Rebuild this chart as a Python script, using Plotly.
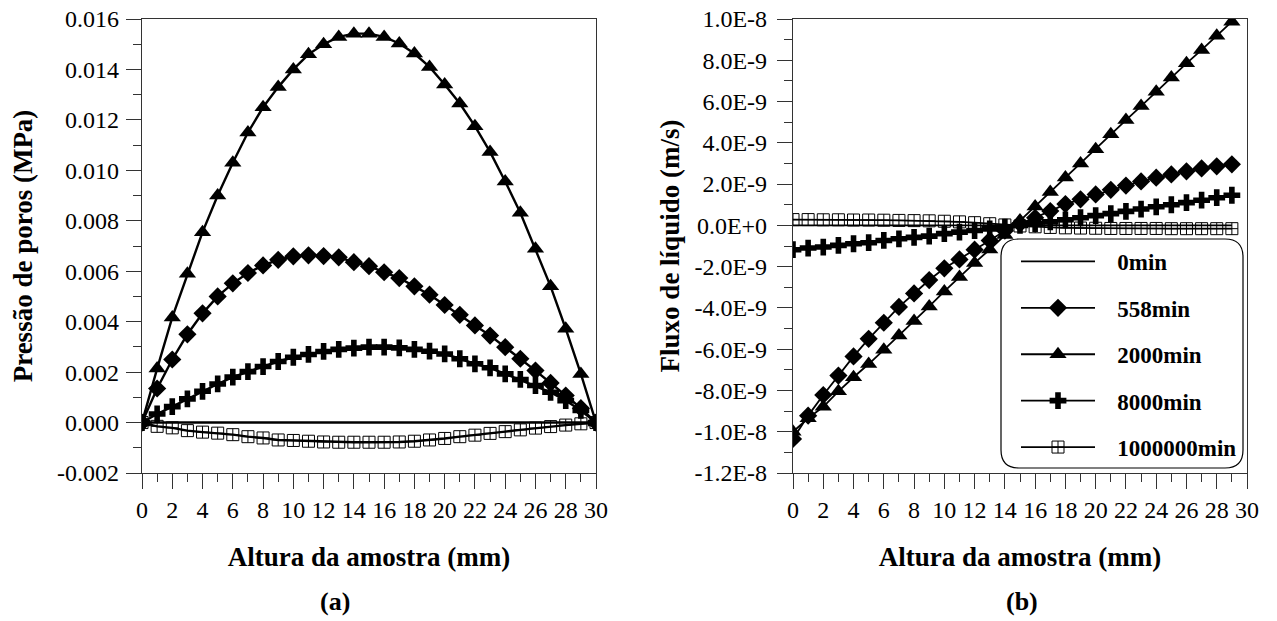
import plotly.graph_objects as go

# ---------------- data ----------------
x_a = list(range(0, 31))
p_0min = [0.0] * 31
p_558 = [0, 1.35, 2.5, 3.5, 4.33, 5.0, 5.52, 5.93, 6.23, 6.45, 6.59, 6.63, 6.6, 6.55, 6.36, 6.2,
         5.96, 5.73, 5.4, 5.07, 4.66, 4.27, 3.85, 3.45, 2.99, 2.53, 2.06, 1.57, 1.07, 0.57, 0]
p_2000 = [0, 2.14, 4.17, 5.9, 7.55, 9.0, 10.3, 11.5, 12.5, 13.3, 14.0, 14.6, 15.0, 15.29, 15.42, 15.42,
          15.29, 15.03, 14.63, 14.1, 13.4, 12.65, 11.75, 10.73, 9.56, 8.32, 6.89, 5.4, 3.72, 1.93, 0]
p_8000 = [0, 0.34, 0.63, 0.94, 1.24, 1.53, 1.8, 2.02, 2.22, 2.42, 2.59, 2.7, 2.82, 2.9, 2.95, 2.99,
          2.99, 2.96, 2.9, 2.83, 2.72, 2.53, 2.33, 2.17, 1.93, 1.71, 1.47, 1.2, 0.87, 0.48, 0]
p_1e6 = [0, -0.15, -0.21, -0.32, -0.38, -0.42, -0.48, -0.56, -0.61, -0.69, -0.71, -0.74, -0.77, -0.78,
         -0.78, -0.78, -0.78, -0.77, -0.74, -0.69, -0.63, -0.56, -0.5, -0.43, -0.36, -0.29, -0.22,
         -0.16, -0.1, -0.05, 0]
# pressure values above are in units of 1e-3 MPa

x_b = list(range(0, 30))
q_0min = [0.0] * 30
q_558 = [-10.35, -9.22, -8.22, -7.28, -6.35, -5.5, -4.72, -3.95, -3.3, -2.65, -2.08, -1.65, -1.18,
         -0.73, -0.26, 0.08, 0.37, 0.69, 1.03, 1.26, 1.5, 1.72, 1.93, 2.13, 2.31, 2.47, 2.62, 2.76,
         2.86, 2.96]
q_2000 = [-10.0, -9.35, -8.79, -8.04, -7.36, -6.72, -6.03, -5.34, -4.64, -3.93, -3.2, -2.5, -1.82,
          -1.17, -0.47, 0.24, 0.92, 1.62, 2.32, 3.0, 3.69, 4.42, 5.1, 5.78, 6.47, 7.17, 7.85, 8.5,
          9.19, 9.87]
q_8000 = [-1.18, -1.1, -1.05, -0.97, -0.89, -0.84, -0.73, -0.65, -0.58, -0.52, -0.4, -0.33, -0.25,
          -0.17, -0.09, 0.0, 0.08, 0.17, 0.27, 0.37, 0.47, 0.57, 0.68, 0.79, 0.9, 1.0, 1.1, 1.22,
          1.34, 1.46]
q_1e6 = [0.28, 0.28, 0.27, 0.27, 0.26, 0.26, 0.25, 0.24, 0.23, 0.22, 0.2, 0.17, 0.13, 0.08, 0.02,
         -0.03, -0.07, -0.1, -0.12, -0.13, -0.14, -0.15, -0.15, -0.15, -0.15, -0.16, -0.16, -0.16,
         -0.16, -0.16]
# flux values above are in units of 1e-9 m/s

series_names = ["0min", "558min", "2000min", "8000min", "1000000min"]

ya_ticks = [-0.002, 0.0, 0.002, 0.004, 0.006, 0.008, 0.010, 0.012, 0.014, 0.016]
ya_text = ["-0.002", "0.000", "0.002", "0.004", "0.006", "0.008", "0.010", "0.012", "0.014", "0.016"]
yb_ticks = [-1.2e-8, -1.0e-8, -8e-9, -6e-9, -4e-9, -2e-9, 0.0, 2e-9, 4e-9, 6e-9, 8e-9, 1.0e-8]
yb_text = ["-1.2E-8", "-1.0E-8", "-8.0E-9", "-6.0E-9", "-4.0E-9", "-2.0E-9", "0.0E+0",
           "2.0E-9", "4.0E-9", "6.0E-9", "8.0E-9", "1.0E-8"]
x_ticks = list(range(0, 31, 2))

# ---------------- figure ----------------
OFF = 8                      # default page body margin
W, H = 1277 - OFF, 621 - OFF
FONT = "Liberation Serif"
AX = "#333333"

def px_x(p):
    return (p - OFF) / W

def px_y(p):
    return 1 - (p - OFF) / H

styles = [
    dict(mode="lines", marker=None),
    dict(mode="lines+markers", marker=dict(symbol="diamond", size=14, color="black")),
    dict(mode="lines+markers", marker=dict(symbol="triangle-up", size=15, color="black")),
    dict(mode="lines+markers", marker=dict(symbol="cross", size=14, color="black")),
    dict(mode="lines+markers", marker=dict(symbol="square-cross-open", size=12, color="black",
                                            line=dict(width=1, color="black"))),
]

fig = go.Figure()
pa = [p_0min, p_558, p_2000, p_8000, p_1e6]
for name, ys, st in zip(series_names, pa, styles):
    kw = dict(x=x_a, y=[v * 1e-3 for v in ys], name=name, mode=st["mode"],
              line=dict(color="black", width=2.4), xaxis="x", yaxis="y", showlegend=False)
    if st["marker"]:
        kw["marker"] = st["marker"]
    fig.add_trace(go.Scatter(**kw))

qb = [q_0min, q_558, q_2000, q_8000, q_1e6]
for name, ys, st in zip(series_names, qb, styles):
    kw = dict(x=x_b, y=[v * 1e-9 for v in ys], name=f"&nbsp;&nbsp;&nbsp;<b>{name}</b>",
              mode=st["mode"], line=dict(color="black", width=1.8), xaxis="x2", yaxis="y2",
              showlegend=True, legendgroup=name)
    if st["marker"]:
        kw["marker"] = st["marker"]
    fig.add_trace(go.Scatter(**kw))

tickfont = dict(family=FONT, size=24, color="black")
titlefont = dict(family=FONT, size=27, color="black")

def xaxis_cfg(domain, anchor):
    return dict(domain=domain, range=[0, 30], tickvals=x_ticks, ticks="outside", ticklen=15,
                tickwidth=1.2, tickcolor=AX, showline=True, linecolor=AX, linewidth=1.2,
                mirror=True, showgrid=False, zeroline=False, anchor=anchor, tickfont=tickfont,
                ticklabeloverflow="allow",
                minor=dict(dtick=1, tick0=0, ticks="outside", ticklen=8, tickwidth=1.2,
                           tickcolor=AX, showgrid=False),
                title=dict(text="<b>Altura da amostra (mm)</b>", standoff=25, font=titlefont),
                automargin=False)

def yaxis_cfg(domain, rng, tv, tt, mdt, title, anchor, lab_off, t_off):
    return dict(domain=domain, range=rng, tickvals=tv, ticktext=tt, ticks="outside", ticklen=15,
                tickwidth=1.2, tickcolor=AX, showline=True, linecolor=AX, linewidth=1.2,
                mirror=True, showgrid=False, zeroline=False, anchor=anchor, tickfont=tickfont,
                ticklabelstandoff=lab_off, ticklabeloverflow="allow",
                minor=dict(dtick=mdt, tick0=0, ticks="outside", ticklen=8, tickwidth=1.2,
                           tickcolor=AX, showgrid=False),
                title=dict(text=title, standoff=t_off, font=titlefont), automargin=False)

ydom = [px_y(473), px_y(19)]
fig.update_layout(
    template="none",
    width=W, height=H, margin=dict(l=0, r=0, t=0, b=0),
    paper_bgcolor="white", plot_bgcolor="white",
    font=dict(family=FONT, color="black", size=24),
    xaxis=xaxis_cfg([px_x(142), px_x(596)], "y"),
    yaxis=yaxis_cfg(ydom, [-0.002, 0.016], ya_ticks, ya_text, 0.001,
                    "<b>Pressão de poros (MPa)</b>", "x", 2, 18),
    xaxis2=xaxis_cfg([px_x(793), px_x(1247)], "y2"),
    yaxis2=yaxis_cfg(ydom, [-1.2e-8, 1.0e-8], yb_ticks, yb_text, 1e-9,
                     "<b>Fluxo de líquido (m/s)</b>", "x2", 5, 6),
    legend=dict(x=px_x(1016), y=px_y(240), xanchor="left", yanchor="top",
                bgcolor="rgba(0,0,0,0)", borderwidth=0, traceorder="grouped",
                tracegroupgap=13.5, itemwidth=74,
                font=dict(family=FONT, size=23, color="black")),
    annotations=[
        dict(text="<b>(a)</b>", x=px_x(335), y=px_y(601), xref="paper", yref="paper",
             xanchor="center", yanchor="middle",
             showarrow=False, font=dict(family=FONT, size=26, color="black")),
        dict(text="<b>(b)</b>", x=px_x(1022), y=px_y(601), xref="paper", yref="paper",
             xanchor="center", yanchor="middle",
             showarrow=False, font=dict(family=FONT, size=26, color="black")),
    ],
)

# rounded legend frame
x0, x1, y0, y1, r = 1001, 1243, 239, 468, 18
path = (f"M {px_x(x0 + r)} {px_y(y0)} L {px_x(x1 - r)} {px_y(y0)} "
        f"Q {px_x(x1)} {px_y(y0)} {px_x(x1)} {px_y(y0 + r)} "
        f"L {px_x(x1)} {px_y(y1 - r)} Q {px_x(x1)} {px_y(y1)} {px_x(x1 - r)} {px_y(y1)} "
        f"L {px_x(x0 + r)} {px_y(y1)} Q {px_x(x0)} {px_y(y1)} {px_x(x0)} {px_y(y1 - r)} "
        f"L {px_x(x0)} {px_y(y0 + r)} Q {px_x(x0)} {px_y(y0)} {px_x(x0 + r)} {px_y(y0)} Z")
fig.add_shape(type="path", path=path, xref="paper", yref="paper",
              line=dict(color="black", width=1.2), fillcolor="white", layer="below")

fig.write_html("out.html")
